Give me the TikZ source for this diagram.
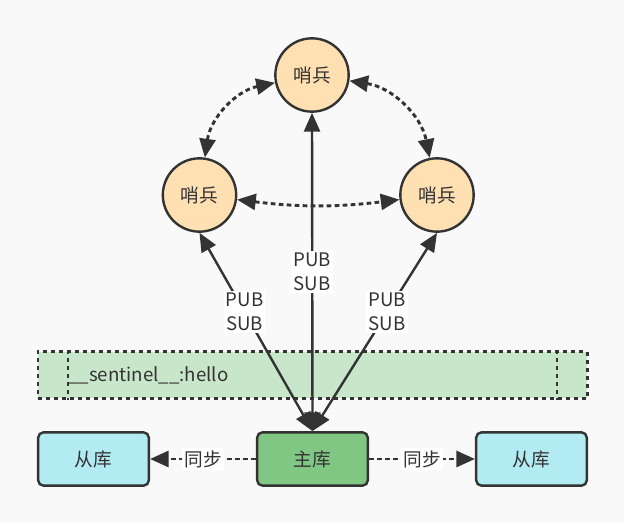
\documentclass[tikz,border=0pt]{standalone}
\usepackage{fontspec}
\setmainfont{Noto Sans CJK SC}
\usetikzlibrary{arrows.meta, positioning}

\definecolor{bgc}{HTML}{F9F9F9}
\definecolor{ink}{HTML}{333333}
\definecolor{sentfill}{HTML}{FFE0B2}
\definecolor{bandfill}{HTML}{C8E6C9}
\definecolor{masterfill}{HTML}{81C784}
\definecolor{slavefill}{HTML}{B2EBF2}

\begin{document}
\begin{tikzpicture} [x=0.75pt, y=-0.75pt,
			draw=ink, text=ink,
			font=\fontsize{14pt}{18pt}\selectfont,
			node distance = 164.25pt,
			on grid,
			sentinel/.style={circle, draw, line width=1.8pt, fill=sentfill,
				minimum size=55pt, inner sep=0pt},
			db/.style={rectangle, rounded corners=4pt, draw, line width=1.8pt,
				minimum width=83pt, minimum height=40pt},
			dots/.style={line width=2.2pt, dash pattern=on 3.5pt off 2.5pt},
			tip/.style={-{Triangle[length=14pt,width=12pt]}},
			both/.style={{Triangle[length=14pt,width=12pt]}-{Triangle[length=14pt,width=12pt]}},
			ps/.style={fill=white, inner sep=1.5pt, align=center},
		]

		\useasboundingbox[fill=bgc] (0,0) rectangle (624,523);

		% Channel
		\node (band) [draw, fill=bandfill, line width=2pt,
			dash pattern=on 3pt off 3pt,
			minimum width=412pt, minimum height=35pt] at (312.5,375) {};
		\node (hello) [anchor=west, inner sep=0pt] at (68,375) {\_\_sentinel\_\_:hello};
		\coordinate (bandR) at (557,375);
		\draw [line width=2pt, dash pattern=on 3pt off 3pt]
		(hello.west |- band.north) -- (hello.west |- band.south)
		(bandR |- band.north) -- (bandR |- band.south);

		% Sentinels
		\node (sT) [sentinel] at (312,75) {哨兵};
		\node (sL) [sentinel] at (199.5,195) {哨兵};
		\node (sR) [sentinel] at (437,195) {哨兵};
		% Databases
		\node (master) [db, fill=masterfill] at (312.5,459) {主库};
		\node (slaveL) [db, fill=slavefill,
			left = of master] {从库};
		\node (slaveR) [db, fill=slavefill,
			right = of master] {从库};

		% Arrows
		\path [line width=1.8pt, both]
		(master.north) edge node[ps] {PUB\\SUB} (sT.south)
		(master.north) edge node[ps, pos=0.6] {PUB\\SUB} (sL.south)
		(master.north) edge node[ps, pos=0.6] {PUB\\SUB} (sR.south)
		;
		\path [dots, both]
		(sL) edge[bend left=35] (sT)
		(sT) edge[bend left=35] (sR)
		(sL) edge[bend right=7] (sR)
		;
		\path [dots, tip]
		(master) edge node[ps] {同步} (slaveL)
		(master) edge node[ps] {同步} (slaveR)
		;
	\end{tikzpicture}
\end{document}
